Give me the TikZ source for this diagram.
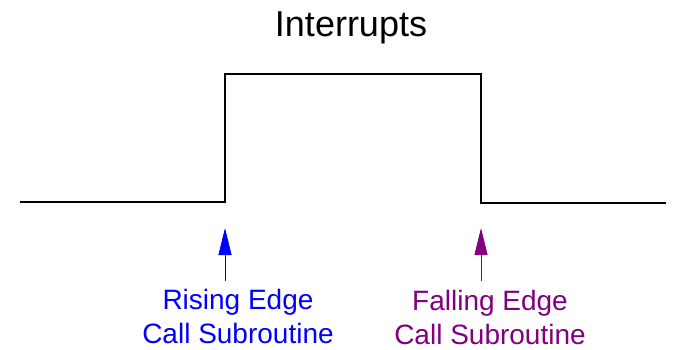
\documentclass[tikz,border=0pt]{standalone}
\usepackage{fontspec}
\setmainfont{Liberation Sans}
\usepackage{xcolor}
\usetikzlibrary{arrows.meta}
\definecolor{fallpurple}{RGB}{128,0,128}
\tikzset{
  wave/.style={line width=2.4pt, line join=miter},
  edgearrow/.style={line width=1pt, -{Triangle[length=27pt,width=13pt]}},
  edgelabel/.style={align=center, inner sep=0pt, anchor=north, font=\fontsize{28}{34}\selectfont}
}

\begin{document}
\begin{tikzpicture}[x=1pt,y=-1pt]
  \useasboundingbox (0,0) rectangle (684,350);
  % signal corners
  \coordinate (w0) at (20,202);
  \coordinate (w1) at (225,202);
  \coordinate (w2) at (225,74);
  \coordinate (w3) at (481,74);
  \coordinate (w4) at (481,203);
  \coordinate (w5) at (666,203);
  \node (title) [anchor=base, font=\fontsize{36}{40}\selectfont] at (351,37) {Interrupts};
  \draw[wave] (w0) -- (w1) -- (w2) -- (w3) -- (w4) -- (w5);
  % edge markers
  \coordinate (risetail) at (225,281);
  \coordinate (risetip) at (225,228);
  \coordinate (falltail) at (481,281);
  \coordinate (falltip) at (481,228);
  \draw[edgearrow, blue] (risetail) -- (risetip);
  \draw[edgearrow, fallpurple] (falltail) -- (falltip);
  \node (rise) [edgelabel, text=blue] at (238,289) {Rising Edge\\Call Subroutine};
  \node (fall) [edgelabel, text=fallpurple] at (490,290) {Falling Edge\\Call Subroutine};
\end{tikzpicture}
\end{document}
